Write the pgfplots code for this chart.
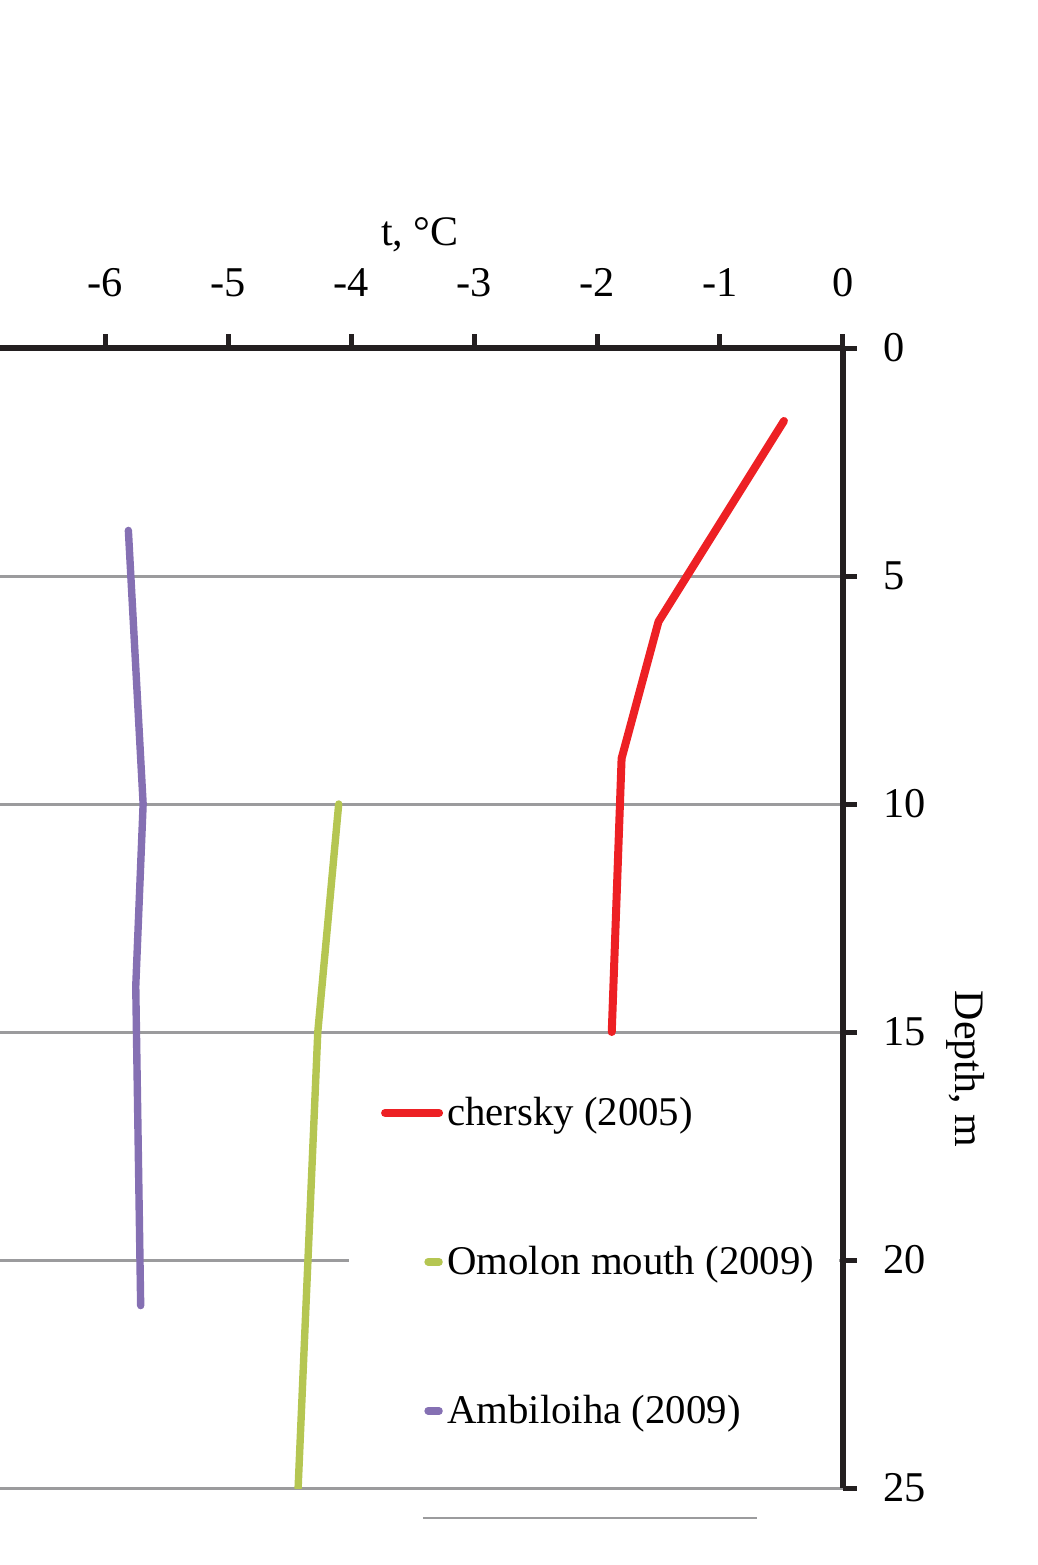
\documentclass[border=0pt]{standalone}
\usepackage{fontspec}
\setmainfont{Liberation Serif}
\usepackage{pgfplots}
\pgfplotsset{compat=1.18}
\definecolor{axiscol}{HTML}{231F20}
\definecolor{gridcol}{HTML}{9B9B9D}
\definecolor{cred}{HTML}{ED2024}
\definecolor{cgreen}{HTML}{B5C652}
\definecolor{cpurple}{HTML}{8570B3}
\pgfplotsset{
  longleg/.style={legend image code/.code={\draw[##1] (-13.5pt,0pt) -- (0pt,0pt);}},
  shortleg/.style={legend image code/.code={\draw[##1] (-2.75pt,0pt) -- (0pt,0pt);}},
}
\begin{document}
\begin{tikzpicture}
\useasboundingbox (0pt,-19.25pt) rectangle (259.5pt,372pt);
\begin{axis}[
  at={(0pt,0pt)}, anchor=south west,
  scale only axis, width=210.75pt, height=285pt,
  xmin=-6.8537, xmax=0, ymin=0, ymax=25,
  y dir=reverse,
  axis x line=top, axis y line=right,
  axis line style={axiscol, line width=1.4pt, -},
  xtick={-6,-5,-4,-3,-2,-1,0},
  ytick={0,5,10,15,20,25},
  tick align=outside,
  major tick length=3.5pt,
  tick style={axiscol, line width=1.25pt},
  ymajorgrids, grid style={gridcol, line width=0.75pt},
  /pgf/number format/assume math mode=true,
  tick label style={font=\fontsize{10.6}{12}\selectfont, text=black},
  xticklabel style={anchor=base, yshift=9.5pt},
  yticklabel style={anchor=west, xshift=3pt},
  clip mode=individual,
  legend cell align=left,
  legend style={at={(axis cs:-3.762,16.34)}, anchor=north west, draw=none, fill=none,
    inner sep=0pt, row sep=27.75pt, font=\fontsize{10.2}{12}\selectfont,
    nodes={inner sep=0pt, text height=8pt, text depth=1.5pt},
    /tikz/every odd column/.append style={column sep=1pt}},
]
\fill[white] (axis cs:-4.02,17) rectangle (axis cs:-0.035,24);
\addplot[cred, line width=2pt, line cap=round, line join=round, longleg]
  coordinates {(-0.48,1.6) (-1.5,6) (-1.8,9) (-1.88,15)};
\addlegendentry{chersky (2005)}
\addplot[cgreen, line width=1.85pt, line cap=round, line join=round, shortleg]
  coordinates {(-4.1,10) (-4.27,15) (-4.35,20) (-4.43,25)};
\addlegendentry{Omolon mouth (2009)}
\addplot[cpurple, line width=1.85pt, line cap=round, line join=round, shortleg]
  coordinates {(-5.81,4) (-5.69,10) (-5.75,14) (-5.71,21)};
\addlegendentry{Ambiloiha (2009)}
\node[anchor=base, font=\fontsize{10.5}{12}\selectfont] at ([yshift=25.75pt]axis cs:-3.44,0) {t, °C};
\node[anchor=base, rotate=-90, font=\fontsize{10.5}{12}\selectfont] at ([xshift=28pt]axis cs:0,15.81) {Depth, m};
\draw[gridcol, line width=0.5pt] (axis cs:-3.415,25.66) -- (axis cs:-0.699,25.66);
\end{axis}
\end{tikzpicture}
\end{document}
